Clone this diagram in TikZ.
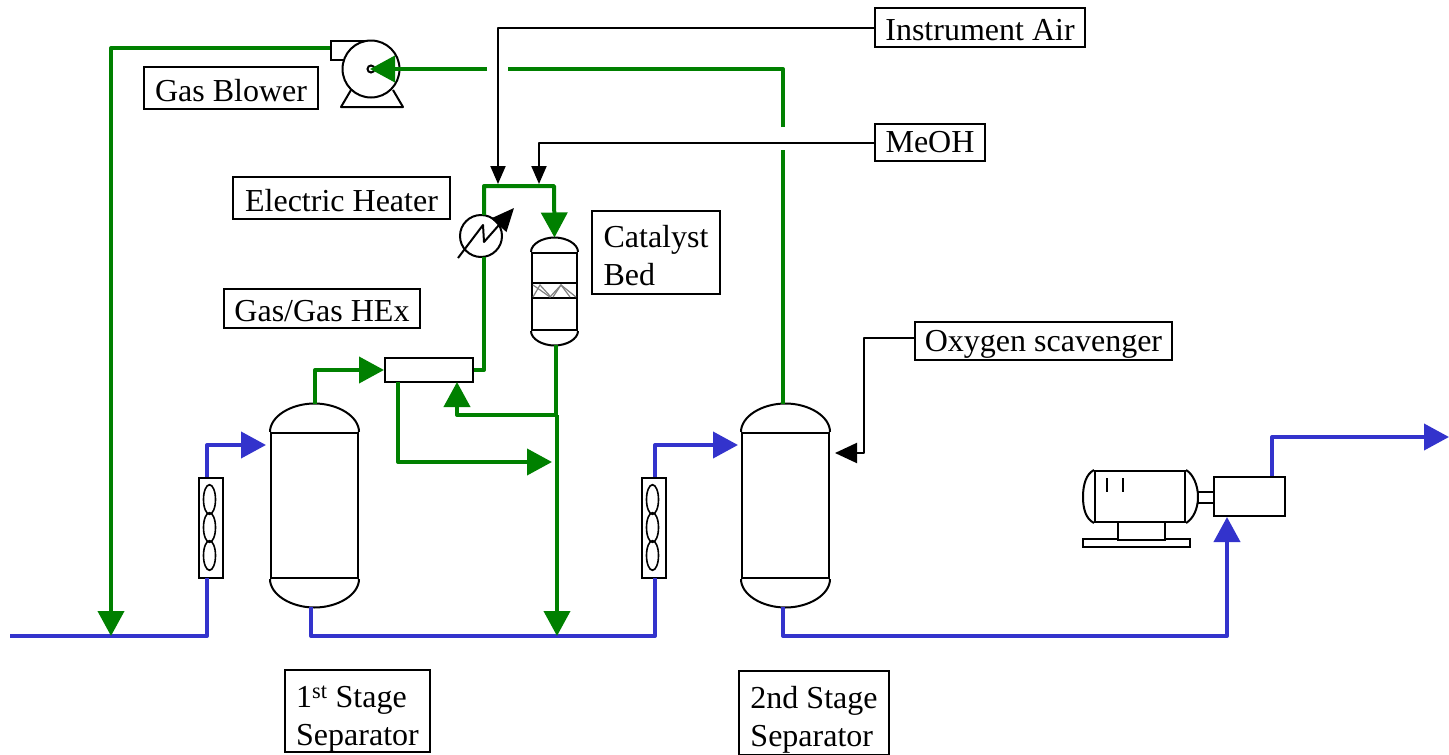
\documentclass[tikz,border=0pt]{standalone}
\usepackage{fontspec}
\setmainfont{Liberation Serif}
\usetikzlibrary{arrows.meta, calc, shapes.geometric}
\definecolor{gasgreen}{RGB}{0,128,0}
\definecolor{liquidblue}{RGB}{51,51,204}
\tikzset{
	bigtip/.tip={Triangle[length=25pt, width=26pt]},
	smalltip/.tip={Triangle[length=18pt, width=15pt]},
	greenline/.style={line width=4pt, gasgreen, line join=round},
	blueline/.style={line width=4pt, liquidblue, line join=round},
	blackline/.style={line width=2pt, black, line join=round},
	equip/.style={draw=black, line width=2pt, fill=white, inner sep=0pt, rectangle},
	labelbox/.style={draw=black, line width=2pt, fill=white, inner sep=0pt, align=left,
		font=\fontsize{32}{38}\selectfont},
	dropto/.style={execute at begin node={\rule{0pt}{#1pt}}},
	fanblade/.style={draw=black, line width=1.6pt, ellipse, inner sep=0pt, minimum width=12pt, minimum height=29.5pt},
}
% strut for the first line of a two line label
\newcommand{\firstdrop}[1]{\rule{0pt}{#1pt}}
% vessel: name, centre, width, height, head
\newcommand{\drawvessel}[5]{
	\node[equip, minimum width=#3pt, minimum height=#4pt] (#1) at (#2) {};
	\coordinate (#1top) at ($(#1.north)+(0,-#5)$);
	\coordinate (#1bot) at ($(#1.south)+(0,#5)$);
	\draw[blackline] (#1.north west) .. controls +(0,-#5*0.55) and +(-#3*0.27,0) .. (#1top)
		.. controls +(#3*0.27,0) and +(0,-#5*0.55) .. (#1.north east);
	\draw[blackline] (#1.south west) .. controls +(0,#5*0.55) and +(-#3*0.27,0) .. (#1bot)
		.. controls +(#3*0.27,0) and +(0,#5*0.55) .. (#1.south east);
}
% air cooler with three blades
\newcommand{\drawcooler}[2]{
	\node[equip, minimum width=24pt, minimum height=100pt] (#1) at (#2) {};
	\foreach \dy/\nm in {-28/a, 0/b, 28/c}
		\node[fanblade] (#1\nm) at ($(#1)+(-1.5,\dy)$) {};
}

\begin{document}
\begin{tikzpicture}[x=1pt, y=-1pt]
	\useasboundingbox (0,0) rectangle (1449,755);

	% Equipment
	\drawvessel{sepone}{314.5,505.5}{87}{145}{28.5}
	\drawvessel{septwo}{785.5,505.5}{87}{145}{28.5}
	\drawvessel{catbed}{554.5,291.5}{45}{77}{14.5}
	\drawcooler{coolone}{211,527.5}
	\drawcooler{cooltwo}{654,527.5}
	\node[equip, minimum width=88pt, minimum height=24pt] (hex) at (429,370) {};
	\node[equip, circle, minimum size=42pt] (heater) at (481,236) {};

	% Catalyst bed packing
	\node[equip, minimum width=45pt, minimum height=15pt, fill=none] (packing) at (554.5,290.5) {};
	\draw[gray, line width=1.2pt] (533,285) -- (550,297) -- (561,285) -- (576,297);
	\draw[gray, line width=1.2pt] (533,297) -- (540,285) -- (550,296);
	\draw[gray, line width=1.2pt] (553,297) -- (561,285) -- (570,297);

	% Gas blower
	\draw[blackline, fill=white] (351,90) -- (341,107) -- (403,107) -- (393,90);
	\node[equip, minimum width=40pt, minimum height=19pt] (blowerbox) at (351,50.5) {};
	\node[equip, circle, minimum size=57pt] (blower) at (371,69) {};
	\node[equip, circle, minimum size=7pt] (hub) at (371,69) {};

	% Compressor and motor
	\node[equip, minimum width=107pt, minimum height=8pt] (motorbase) at (1136.5,543) {};
	\node[equip, minimum width=47pt, minimum height=18pt] (motorfoot) at (1141.5,531) {};
	\node[equip, minimum width=90pt, minimum height=51pt] (motor) at (1140,496.5) {};
	\draw[blackline] (motor.north west) .. controls (1086,474) and (1083,485) .. (1083,497)
		.. controls (1083,509) and (1086,519) .. (motor.south west);
	\draw[blackline] (motor.north east) .. controls (1193,474) and (1198,485) .. (1198,497)
		.. controls (1198,509) and (1193,519) .. (motor.south east);
	\draw[blackline] (1107,478) -- (1107,492);
	\draw[blackline] (1123,478) -- (1123,492);
	\node[equip, minimum width=16pt, minimum height=11pt] (coupling) at (1206,497.5) {};
	\node[equip, minimum width=71pt, minimum height=39pt] (compressor) at (1249.5,496.5) {};

	% Free ends and bends
	\coordinate (feed) at (10,636);
	\coordinate (outlet) at (1449,437);
	\coordinate (mixone) at (207,636);
	\coordinate (mixtwo) at (557,636);
	\coordinate (teeone) at (557,415);
	\coordinate (gapa) at (783,150);
	\coordinate (gapb) at (783,127);
	\coordinate (gapc) at (508,69);
	\coordinate (gapd) at (487,69);
	\coordinate (hubtip) at (370,69);

	% Liquid lines
	\draw[blueline] (feed) -- (mixone) -- (207,578);
	\draw[blueline, -{bigtip}] (207,477) -- (207,445) -- (266,445);
	\draw[blueline] (311,607) -- (311,636) -- (655,636) -- (655,578);
	\draw[blueline, -{bigtip}] (655,477) -- (655,445) -- (738,445);
	\draw[blueline, -{bigtip}] (783,607) -- (783,636) -- (1227,636) -- (compressor.south -| 1227,0);
	\draw[blueline, -{bigtip}] (compressor.north -| 1272,0) -- (1272,437) -- (outlet);

	% Gas lines
	\draw[greenline, -{bigtip}] (blowerbox.west |- 0,48) -- (111,48) -- (111,636);
	\draw[greenline] (septwotop -| 783,0) -- (gapa);
	\draw[greenline] (gapb) -- (783,69) -- (gapc);
	\draw[greenline, -{bigtip}] (gapd) -- (hubtip);
	\draw[greenline, -{bigtip}] (315,404) -- (315,370) -- (hex.west);
	\draw[greenline] (hex.east) -- (484,370) -- (484,257);
	\draw[greenline, -{bigtip}] (484,215) -- (484,186) -- (554,186) -- (catbedtop);
	\draw[greenline] (556,345) -- (556,417);
	\draw[greenline, -{bigtip}] (teeone) -- (mixtwo);
	\draw[greenline, -{bigtip}] (teeone) -- (457,415) -- (457,382);
	\draw[greenline, -{bigtip}] (398,382) -- (398,462) -- (552,462);

	% Heater symbol
	\draw[blackline, -{Triangle[length=23pt, width=20pt]}] (458,258) -- (483,225) -- (484,242) -- (514,208);

	% Labels
	\node[labelbox, dropto=25.5, minimum width=210pt, minimum height=39pt] (air) at (980,27.5) {Instrument Air};
	\node[labelbox, minimum width=110pt, minimum height=37pt] (meoh) at (930,142.5) {MeOH};
	\node[labelbox, dropto=28, minimum width=257pt, minimum height=38pt] (oxy) at (1043.5,341) {Oxygen scavenger};
	\node[labelbox, dropto=27.5, minimum width=174pt, minimum height=42pt] (blowerlabel) at (231,88) {Gas Blower};
	\node[labelbox, dropto=27.5, minimum width=217pt, minimum height=42pt] (heaterlabel) at (341.5,198) {Electric Heater};
	\node[labelbox, minimum width=128pt, minimum height=83pt] (catlabel) at (656,252.5) {\firstdrop{29}Catalyst\\Bed};
	\node[labelbox, dropto=25.5, minimum width=196pt, minimum height=39pt] (hexlabel) at (322,308.5) {Gas/Gas HEx};
	\node[labelbox, minimum width=145pt, minimum height=82pt] (sepolabel) at (357.5,711) {\firstdrop{38}1\textsuperscript{st} Stage\\Separator};
	\node[labelbox, minimum width=150pt, minimum height=84pt] (septlabel) at (814,713) {\firstdrop{36}2nd Stage\\Separator};

	% Utility lines
	\draw[blackline, -{smalltip}] (air.west) -- (498,27.5) -- (498,184);
	\draw[blackline, -{smalltip}] (meoh.west) -- (539,142.5) -- (539,184);
	\draw[blackline, -{Triangle[length=22pt, width=20pt]}] (oxy.west |- 0,338) -- (864,338) -- (864,453) -- (835,453);

\end{tikzpicture}
\end{document}
